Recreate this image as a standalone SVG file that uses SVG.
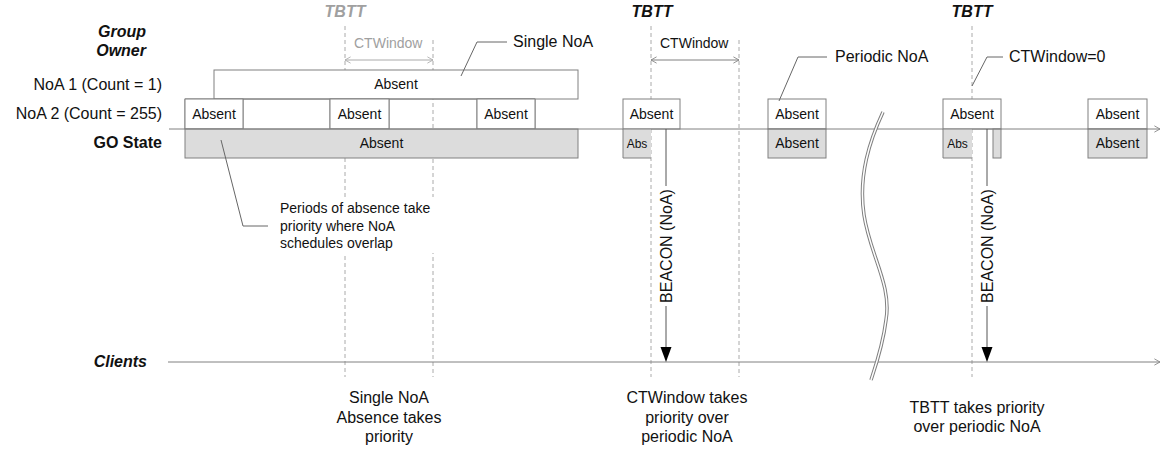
<svg xmlns="http://www.w3.org/2000/svg" width="1167" height="450" viewBox="0 0 1167 450">
<style>
text{font-family:"Liberation Sans",Arial,sans-serif;fill:#111}
.lbl{font-size:16px}
.bi{font-size:16px;font-weight:bold;font-style:italic}
.b{font-size:16px;font-weight:bold}
.box{font-size:14px}
.sm{font-size:12px}
.w{fill:#fff;stroke:#808080;stroke-width:1}
.g{fill:#dcdcdc;stroke:#808080;stroke-width:1}
.gf{fill:#dcdcdc;stroke:none}
.ln{fill:none;stroke:#808080;stroke-width:1}
.lead{fill:none;stroke:#666;stroke-width:1}
.dash{fill:none;stroke:#aaa;stroke-width:1;stroke-dasharray:4 3}
.grey{fill:#a0a0a0}
.mid{text-anchor:middle}
.end{text-anchor:end}
</style>
<defs>
<marker id="open" viewBox="0 0 10 10" refX="9" refY="5" markerWidth="7" markerHeight="10" markerUnits="userSpaceOnUse" orient="auto-start-reverse">
<path d="M1,0.5 L9,5 L1,9.5" fill="none" stroke="#808080" stroke-width="1.2"/>
</marker>
<marker id="openL" viewBox="0 0 10 10" refX="9" refY="5" markerWidth="7" markerHeight="10" markerUnits="userSpaceOnUse" orient="auto-start-reverse">
<path d="M1,0.5 L9,5 L1,9.5" fill="none" stroke="#aaa" stroke-width="1.2"/>
</marker>
</defs>

<g id="row-labels">
<text class="bi end" x="146" y="37">Group</text>
<text class="bi end" x="146" y="56">Owner</text>
<text class="lbl end" x="162" y="90">NoA 1 (Count = 1)</text>
<text class="lbl end" x="162" y="119">NoA 2 (Count = 255)</text>
<text class="b end" x="162" y="148">GO State</text>
<text class="bi end" x="147" y="367">Clients</text>
</g>

<g id="dashed-guides">
<path class="dash" d="M345,26 V70 M345,158 V377"/>
<path class="dash" d="M433,40 V377"/>
<path class="dash" d="M651,26 V99 M651,129 V377"/>
<path class="dash" d="M739,40 V377"/>
<path class="dash" d="M972,26 V99 M972,129 V377"/>
</g>

<g id="tbtt-labels">
<text class="bi mid grey" x="345" y="17">TBTT</text>
<text class="bi mid" x="652" y="17">TBTT</text>
<text class="bi mid" x="972" y="17">TBTT</text>
</g>

<g id="noa1">
<rect class="w" x="214" y="70" width="364" height="29"/>
<text class="box mid" x="396" y="89">Absent</text>
</g>

<g id="noa2">
<path class="ln" d="M185,99 H535 V129 M243,99 V129 M330,99 V129 M389,99 V129 M477,99 V129 M185,99 V129"/>
<rect class="w" x="185" y="99" width="58" height="30"/>
<rect class="w" x="330" y="99" width="59" height="30"/>
<rect class="w" x="477" y="99" width="58" height="30"/>
<text class="box mid" x="214" y="119">Absent</text>
<text class="box mid" x="359.5" y="119">Absent</text>
<text class="box mid" x="506" y="119">Absent</text>
</g>

<g id="noa2-tbtt1">
<rect class="w" x="623" y="99" width="57" height="30"/>
<text class="box mid" x="651.5" y="119">Absent</text>
</g>
<g id="noa2-periodic">
<rect class="w" x="768" y="99" width="58" height="30"/>
<text class="box mid" x="797" y="119">Absent</text>
</g>
<g id="noa2-tbtt2">
<rect class="w" x="943" y="99" width="58" height="30"/>
<text class="box mid" x="972" y="119">Absent</text>
</g>
<g id="noa2-last">
<rect class="w" x="1088" y="99" width="59" height="30"/>
<text class="box mid" x="1117.5" y="119">Absent</text>
</g>

<g id="go-state-main">
<rect class="g" x="185" y="129" width="393" height="29"/>
<text class="box mid" x="381.5" y="148">Absent</text>
</g>
<g id="go-state-abs1">
<rect class="gf" x="623" y="129" width="28" height="29"/>
<path class="ln" d="M651,158 H623 V129"/>
<text class="sm mid" x="637" y="148">Abs</text>
</g>
<g id="go-state-periodic">
<rect class="g" x="768" y="129" width="58" height="29"/>
<text class="box mid" x="797" y="148">Absent</text>
</g>
<g id="go-state-abs2">
<rect class="gf" x="943" y="129" width="29" height="29"/>
<path class="ln" d="M972,158 H943 V129"/>
<text class="sm mid" x="957.5" y="148">Abs</text>
<rect class="g" x="993" y="129" width="8" height="29"/>
</g>
<g id="go-state-last">
<rect class="g" x="1088" y="129" width="59" height="29"/>
<text class="box mid" x="1117.5" y="148">Absent</text>
</g>

<g id="connectors">
<line class="ln" x1="169" y1="129" x2="1160" y2="129" marker-end="url(#open)"/>
<line class="ln" x1="168" y1="362" x2="1160" y2="362" marker-end="url(#open)"/>
<line x1="345" y1="60" x2="433" y2="60" stroke="#aaa" stroke-width="1" marker-start="url(#openL)" marker-end="url(#openL)"/>
<line x1="651" y1="60" x2="739" y2="60" stroke="#808080" stroke-width="1" marker-start="url(#open)" marker-end="url(#open)"/>
<path d="M666,129 V186 M666,306 V347" stroke="#555" stroke-width="1" fill="none"/>
<path d="M660.5,347 L671.5,347 L666,362 Z" fill="#000"/>
<path d="M987,129 V186 M987,306 V347" stroke="#555" stroke-width="1" fill="none"/>
<path d="M981.5,347 L992.5,347 L987,362 Z" fill="#000"/>
<path class="lead" d="M461,76 L477,42 H507"/>
<path class="lead" d="M779,101 L798,57 H827"/>
<path class="lead" d="M972,86 L987,57 H1003"/>
<path class="lead" d="M221,140 L243,226 H268"/>
</g>

<g id="break-mark">
<path d="M883,112 C870,140 858,175 864,215 C870,255 892,285 886,320 C883,345 876,365 871,380" fill="none" stroke="#808080" stroke-width="3.5"/>
<path d="M883,112 C870,140 858,175 864,215 C870,255 892,285 886,320 C883,345 876,365 871,380" fill="none" stroke="#fff" stroke-width="1.5"/>
</g>

<g id="annotations">
<text class="box grey" x="354" y="48">CTWindow</text>
<text class="box" x="660" y="48">CTWindow</text>
<text class="lbl" x="513" y="47">Single NoA</text>
<text class="lbl" x="835" y="62">Periodic NoA</text>
<text class="lbl" x="1009" y="62">CTWindow=0</text>
<rect x="277" y="197" width="160" height="56" fill="#fff"/>
<text class="box" x="280" y="213">Periods of absence take</text>
<text class="box" x="280" y="231">priority where NoA</text>
<text class="box" x="280" y="248">schedules overlap</text>
<text class="lbl mid" transform="translate(666,246) rotate(-90)" dy="0.35em">BEACON (NoA)</text>
<text class="lbl mid" transform="translate(987,246) rotate(-90)" dy="0.35em">BEACON (NoA)</text>
<text class="lbl mid" x="389" y="403">Single NoA</text>
<text class="lbl mid" x="389" y="423">Absence takes</text>
<text class="lbl mid" x="389" y="442">priority</text>
<text class="lbl mid" x="687" y="403">CTWindow takes</text>
<text class="lbl mid" x="687" y="423">priority over</text>
<text class="lbl mid" x="687" y="442">periodic NoA</text>
<text class="lbl mid" x="977" y="413">TBTT takes priority</text>
<text class="lbl mid" x="977" y="432">over periodic NoA</text>
</g>
</svg>
